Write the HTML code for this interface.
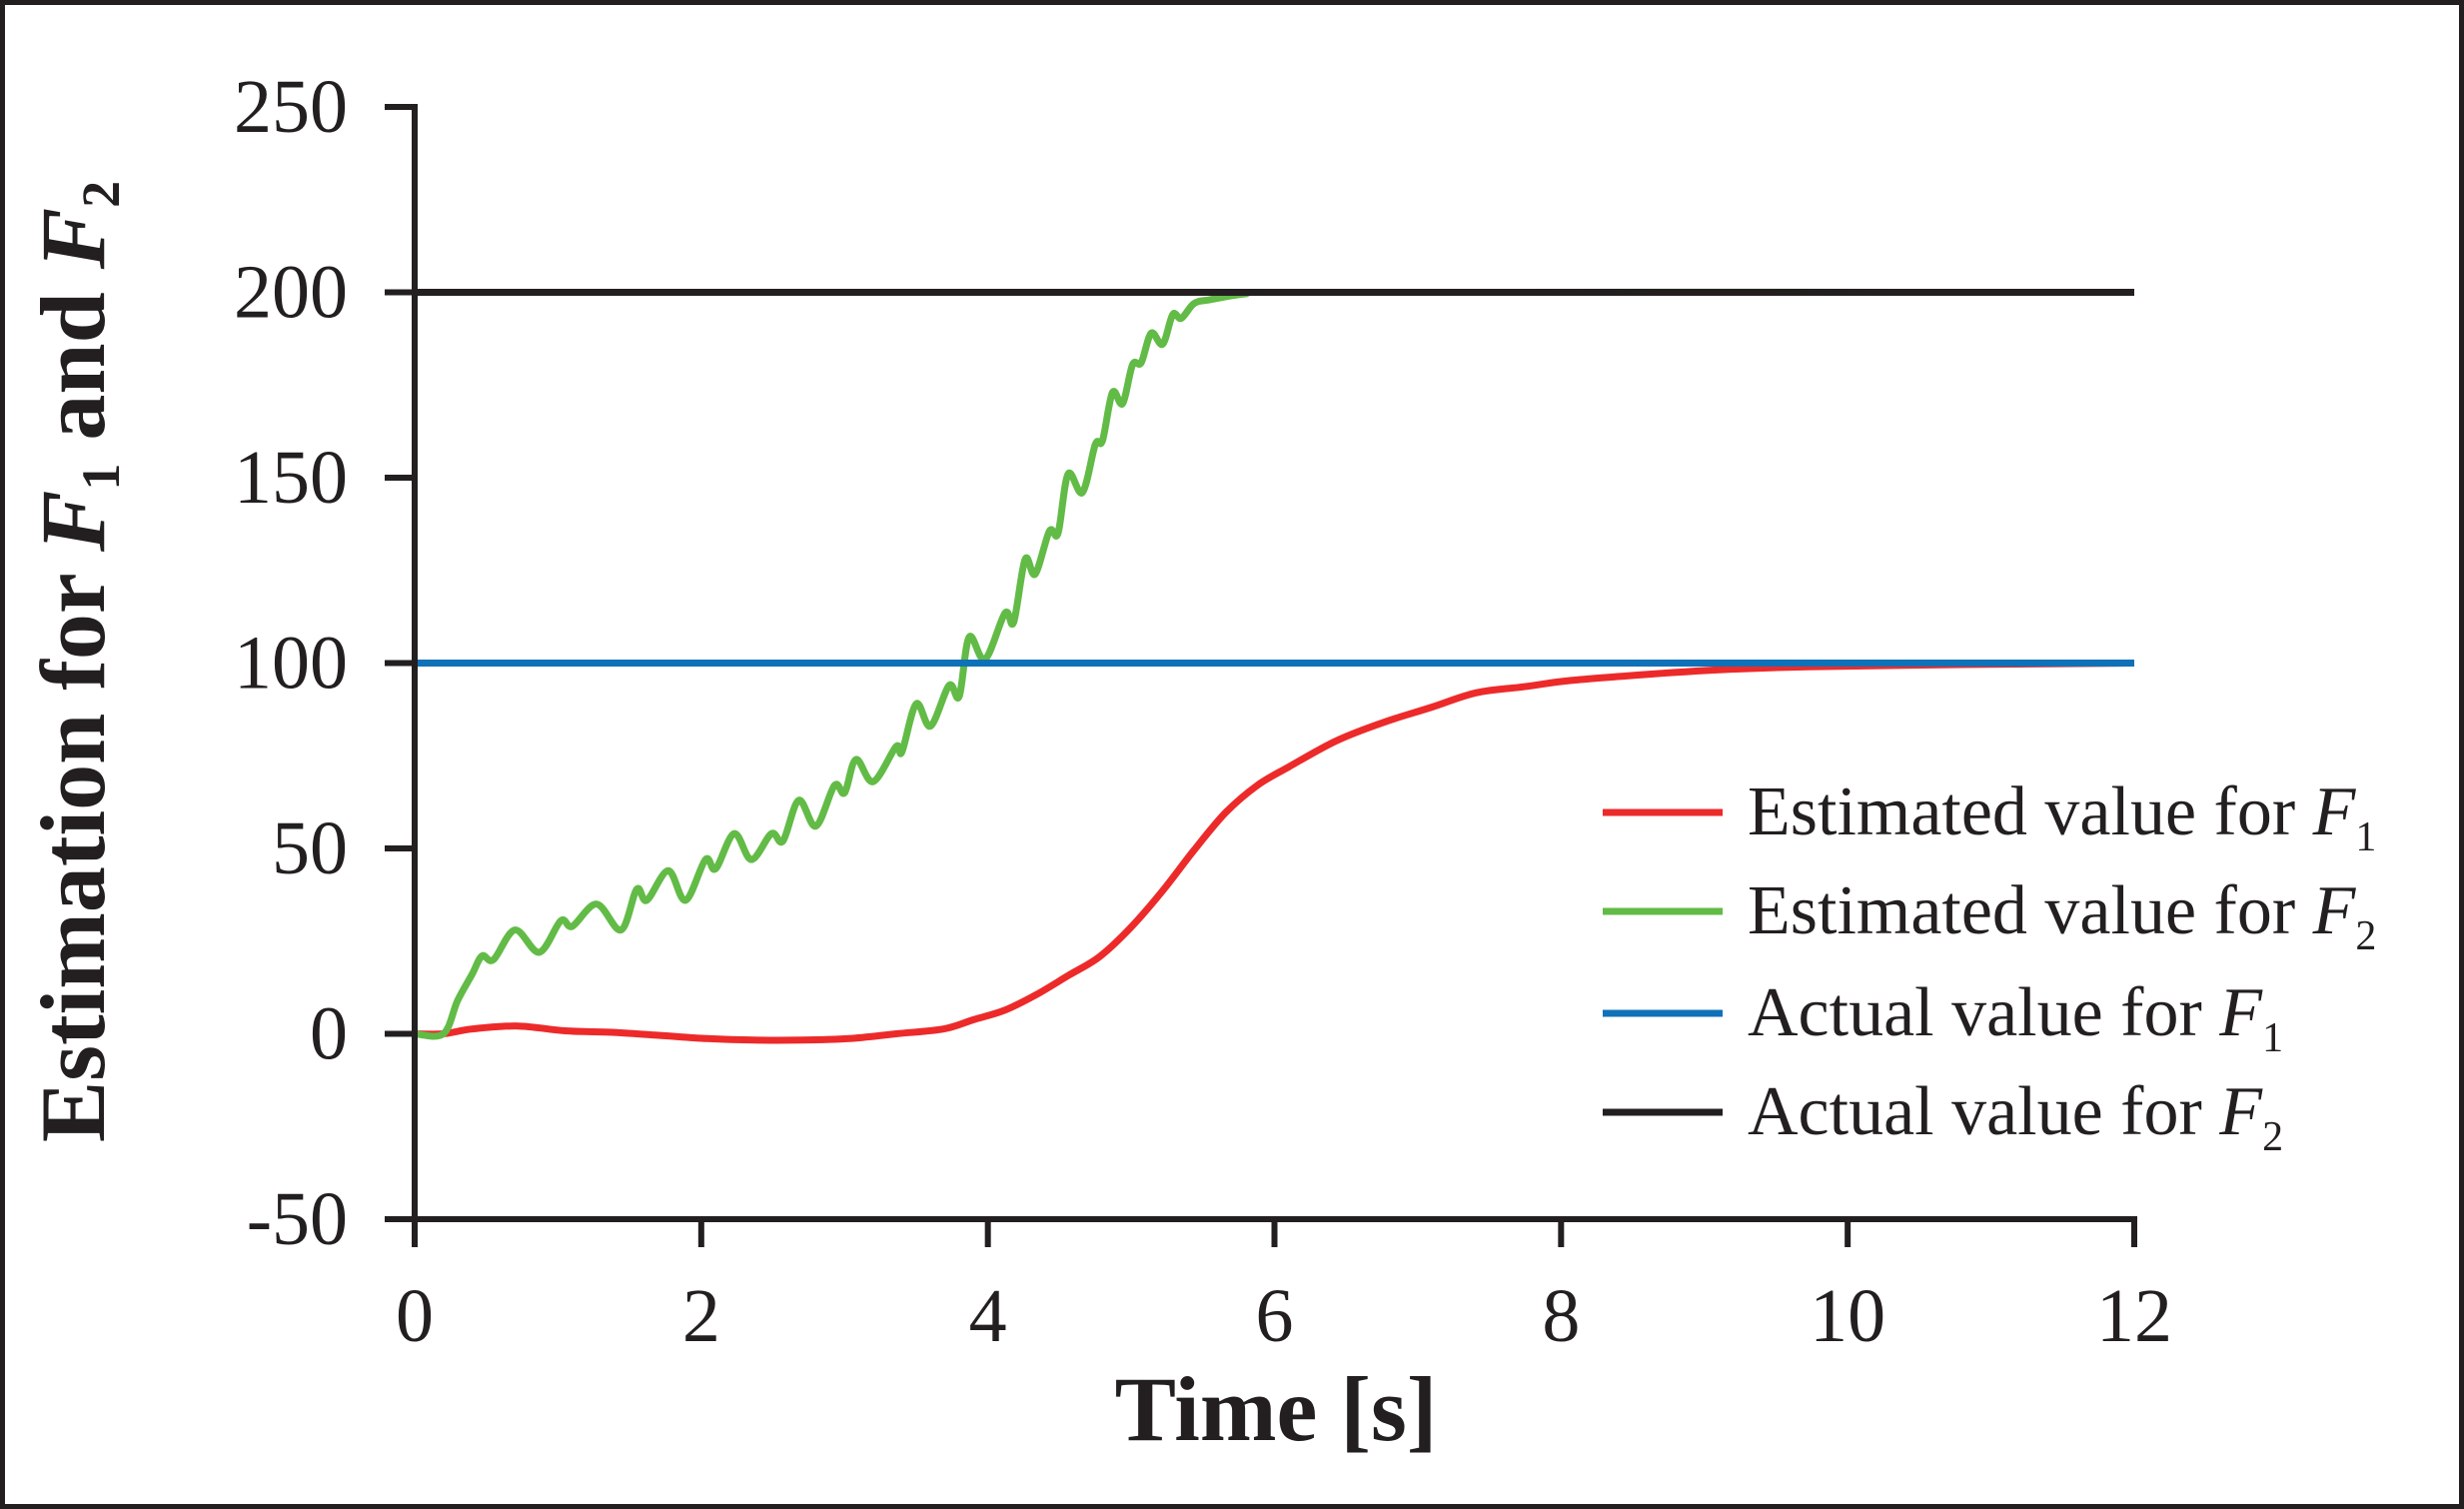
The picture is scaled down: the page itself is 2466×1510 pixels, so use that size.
<!DOCTYPE html>
<html><head><meta charset="utf-8"><style>
html,body{margin:0;padding:0;background:#fff}
svg{display:block}
text{font-family:"Liberation Serif",serif;fill:#231f20}
</style></head><body>
<svg id="chart" width="2466" height="1510" viewBox="0 0 2466 1510" xmlns="http://www.w3.org/2000/svg">
<rect x="2.5" y="2.5" width="2461" height="1505" fill="#fff" stroke="#231f20" stroke-width="5"/>
<g id="series"></g>
<g id="axes"></g>
<text x="1277" y="1441" font-size="92" font-weight="bold" text-anchor="middle">Time [s]</text>
<text transform="translate(104,662) rotate(-90)" font-size="92" font-weight="bold" text-anchor="middle">Estimation for <tspan font-style="italic">F</tspan><tspan font-size="54" dy="15">1</tspan><tspan dy="-15"> and </tspan><tspan font-style="italic">F</tspan><tspan font-size="54" dy="15">2</tspan></text>
<g id="legend"></g>
</svg>
<script>
const xTicks=[0,2,4,6,8,10,12];
const yTicks=[-50,0,50,100,150,200,250];
const f2Time=[0,0.2,0.3,0.4,0.47,0.55,0.7,0.87,1.02,1.1,1.27,1.44,1.55,1.62,1.77,1.89,2.03,2.1,2.23,2.35,2.49,2.57,2.68,2.8,2.93,3.0,3.08,3.2,3.36,3.4,3.5,3.6,3.73,3.8,3.87,3.98,4.12,4.18,4.26,4.33,4.43,4.49,4.56,4.66,4.75,4.8,4.87,4.94,5.01,5.07,5.14,5.22,5.29,5.35,5.44,5.55,5.8,6.1,12];
const f2Est=[0,0,9,16,21,20,28,22,30.5,29,35,28,39,36,44,36,47,44.5,54,47,54,52,63,56,67,65,74,68,77.5,76,89,83,94,91,107,101,113.5,111,128,124,135.6,135,151,146,159,160,173,170,180.5,181,189,186,194,193,197,198,199.6,200,200];
const f1Time=[0,0.2,0.4,0.72,1.05,1.38,1.7,2.04,2.37,2.7,3.03,3.36,3.69,3.9,4.12,4.34,4.56,4.78,5.0,5.22,5.44,5.66,5.88,6.1,6.43,6.76,7.09,7.41,7.74,8.07,8.62,9.17,9.72,10.8,12];
const f1Est=[0,0,1.3,2.1,0.8,0.4,-0.4,-1.3,-1.7,-1.7,-1.3,0,1.3,3.8,6.4,10.6,15.7,20.8,28.8,38.6,49.6,59.7,67,72,79,84,88,92,93.6,95.3,97,98.3,99,99.6,100];
const actualF1=[100,100];
const actualF2=[200,200];
const actualTime=[0,12];
const seriesNames=["Estimated value for ","Estimated value for ","Actual value for ","Actual value for "];
const seriesSubs=["1","2","1","2"];

const NS="http://www.w3.org/2000/svg";
const X0=415,X1=2136,Y0=1220,Y1=107;
function xs(t){return X0+(t-0)/(12-0)*(X1-X0);}
function ys(v){return Y0-(v+50)/(300)*(Y0-Y1);}
function mk(tag,attrs,parent){const e=document.createElementNS(NS,tag);for(const k in attrs)e.setAttribute(k,attrs[k]);parent.appendChild(e);return e;}
const axes=document.getElementById('axes'),series=document.getElementById('series'),legend=document.getElementById('legend');
const ink="#231f20";

let a=mk('line',{x1:X0,y1:Y1-3,x2:X0,y2:Y0+3,stroke:ink,'stroke-width':6},axes);


a=mk('line',{x1:X0-3,y1:Y0,x2:X1+3,y2:Y0,stroke:ink,'stroke-width':6},axes);



yTicks.forEach(v=>{
 const y=ys(v);
 const t=mk('line',{x1:X0-30,y1:y,x2:X0,y2:y,stroke:ink,'stroke-width':6},axes);
 
 
 const l=mk('text',{x:348,y:y+25,'font-size':76,'text-anchor':'end'},axes);
 l.textContent=String(v);
 
 
});
xTicks.forEach(v=>{
 const x=xs(v);
 const t=mk('line',{x1:x,y1:Y0,x2:x,y2:Y0+28,stroke:ink,'stroke-width':6},axes);
 
 
 const l=mk('text',{x:x,y:1342,'font-size':76,'text-anchor':'middle'},axes);
 l.textContent=String(v);
 
 
});

function line(ts,vs,color,name){
 const P=ts.map((t,i)=>[xs(t),ys(vs[i])]);
 let d='M'+P[0][0].toFixed(1)+','+P[0][1].toFixed(1);
 for(let i=0;i<P.length-1;i++){
  const p0=P[Math.max(0,i-1)],p1=P[i],p2=P[i+1],p3=P[Math.min(P.length-1,i+2)];
  const c1=[p1[0]+(p2[0]-p0[0])/6,p1[1]+(p2[1]-p0[1])/6];
  const c2=[p2[0]-(p3[0]-p1[0])/6,p2[1]-(p3[1]-p1[1])/6];
  if(ts.length<=2){d+=' L'+p2[0].toFixed(1)+','+p2[1].toFixed(1);continue;}
  d+=' C'+c1[0].toFixed(1)+','+c1[1].toFixed(1)+' '+c2[0].toFixed(1)+','+c2[1].toFixed(1)+' '+p2[0].toFixed(1)+','+p2[1].toFixed(1);
 }
 const p=mk('path',{d:d,fill:'none',stroke:color,'stroke-width':7,'stroke-linejoin':'round'},series);
 
 
}
line(f1Time,f1Est,'#ed2a2a','estimated-f1-line');
line(f2Time,f2Est,'#62bb46','estimated-f2-line');
line(actualTime,actualF2,ink,'actual-f2-line');
line(actualTime,actualF1,'#0f71b8','actual-f1-line');

const colors=['#ed2a2a','#62bb46','#0f71b8',ink];
const ly=[813,912,1014,1113];
colors.forEach((c,i)=>{
 const g=mk('g',{},legend);
 
 
 mk('line',{x1:1604,y1:ly[i],x2:1724,y2:ly[i],stroke:c,'stroke-width':7},g);
 const t=mk('text',{x:1749,y:ly[i]+22,'font-size':70},g);
 const s1=mk('tspan',{},t);s1.textContent=seriesNames[i];
 const s2=mk('tspan',{'font-style':'italic'},t);s2.textContent='F';
 const s3=mk('tspan',{'font-size':42,dy:16},t);s3.textContent=seriesSubs[i];
});
</script>
</body></html>
